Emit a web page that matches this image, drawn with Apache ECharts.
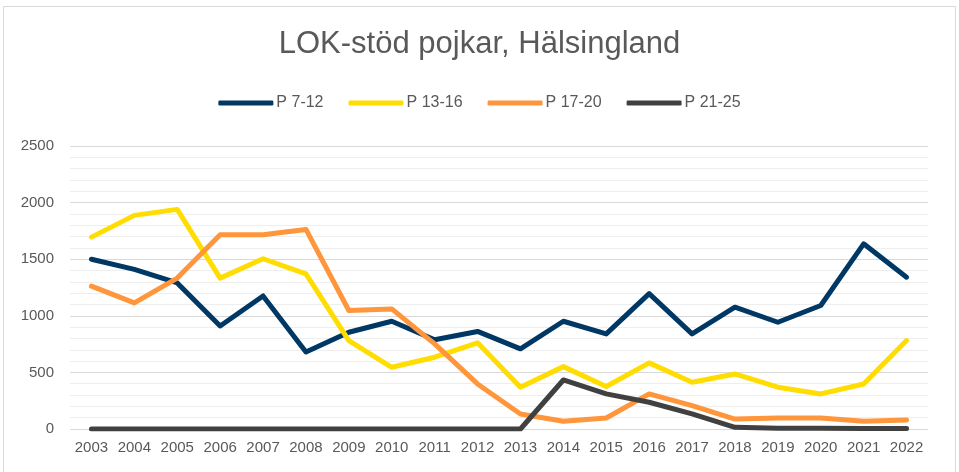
<!DOCTYPE html>
<html>
<head>
<meta charset="utf-8">
<script src="https://cdn.jsdelivr.net/npm/echarts@6/dist/echarts.min.js"></script>
<style>
  html, body { margin: 0; padding: 0; background: #fff; }
  #chart { width: 959px; height: 472px; }
</style>
</head>
<body>
<div id="chart"></div>
<script>
const years = ['2003', '2004', '2005', '2006', '2007', '2008', '2009', '2010', '2011', '2012',
  '2013', '2014', '2015', '2016', '2017', '2018', '2019', '2020', '2021', '2022']

const p7_12 = [1500, 1410, 1290, 910, 1175, 680, 855, 952, 788, 862,
  708, 952, 840, 1196, 840, 1076, 943, 1091, 1636, 1341]
const p13_16 = [1695, 1887, 1940, 1333, 1504, 1371, 780, 545, 634, 761,
  369, 551, 375, 584, 413, 486, 369, 310, 398, 781]
const p17_20 = [1262, 1114, 1333, 1716, 1716, 1763, 1047, 1061, 752, 398,
  133, 68, 97, 310, 206, 88, 97, 97, 68, 80]
const p21_25 = [0, 0, 0, 0, 0, 0, 0, 0, 0, 0,
  0, 433, 310, 236, 133, 15, 6, 6, 5, 5]

const seriesNames = ['P 7-12', 'P 13-16', 'P 17-20', 'P 21-25']
const seriesColors = ['#003865', '#FFDD00', '#FF963C', '#404040']
const seriesData = [p7_12, p13_16, p17_20, p21_25]

const chart = echarts.init(document.getElementById('chart'))

chart.setOption({
  animation: false,
  textStyle: { fontFamily: 'Liberation Sans, Arial, sans-serif' },
  title: {
    text: 'LOK-stöd pojkar, Hälsingland',
    left: 'center',
    top: 24,
    textStyle: { fontSize: 31, fontWeight: 'normal', color: '#595959' }
  },
  legend: {
    top: 90,
    left: 'center',
    icon: 'roundRect',
    itemWidth: 55,
    itemHeight: 5,
    itemGap: 25,
    textStyle: { fontSize: 16, color: '#595959', padding: [0, 0, 0, -2] },
    data: seriesNames
  },
  graphic: [{
    type: 'rect',
    shape: { x: 3.5, y: 6.5, width: 952, height: 490 },
    style: { fill: 'none', stroke: '#d9d9d9', lineWidth: 1 },
    silent: true
  }],
  grid: { left: 70, right: 31, top: 146, bottom: 43 },
  xAxis: {
    type: 'category',
    data: years,
    boundaryGap: true,
    axisLine: { show: false },
    axisTick: { show: false },
    axisLabel: { color: '#595959', fontSize: 15, margin: 11, interval: 0 }
  },
  yAxis: {
    type: 'value',
    min: 0,
    max: 2500,
    interval: 500,
    axisLabel: { color: '#595959', fontSize: 15, margin: 16, formatter: (v) => String(v) },
    splitLine: { lineStyle: { color: '#d9d9d9', width: 1 } },
    minorTick: { show: false, splitNumber: 5 },
    minorSplitLine: { show: true, lineStyle: { color: '#eeeeee', width: 1 } }
  },
  series: seriesNames.map((name, i) => ({
    name: name,
    type: 'line',
    data: seriesData[i],
    showSymbol: false,
    symbol: 'none',
    color: seriesColors[i],
    lineStyle: { width: 5, color: seriesColors[i], cap: 'round', join: 'round' }
  }))
})

window.addEventListener('resize', () => {
  chart.resize()
})
</script>
</body>
</html>
